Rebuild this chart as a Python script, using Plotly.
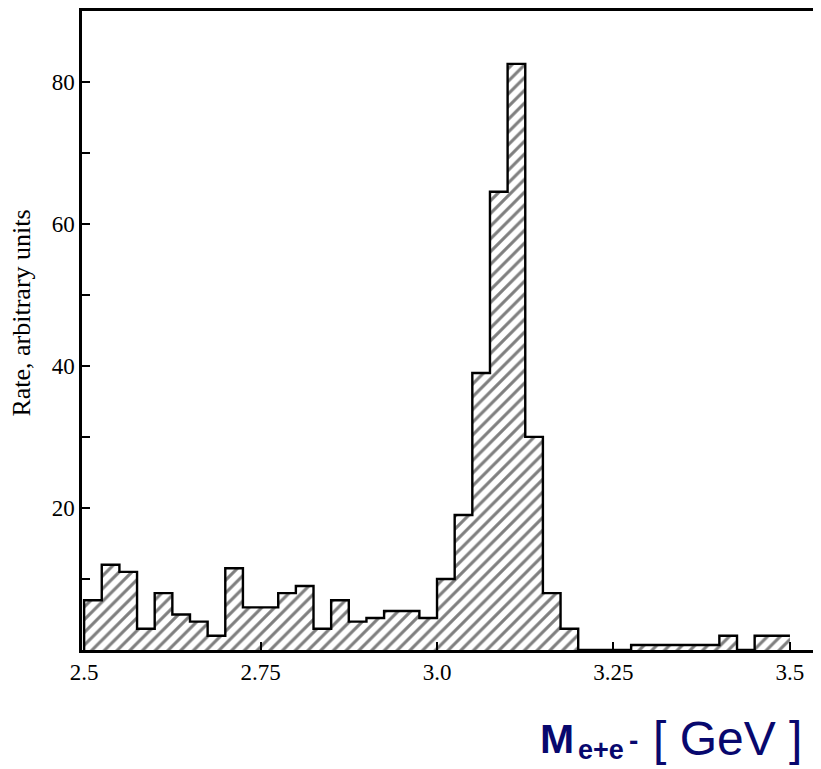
import numpy as np
import plotly.graph_objects as go

# ---- data ----
bin_width = 0.025
bin_left_edges = [round(2.5 + 0.025 * i, 3) for i in range(40)]
rates = [7, 12, 11, 3, 8, 5, 4, 2, 11.5, 6,
         6, 8, 9, 3, 7, 4, 4.5, 5.5, 5.5, 4.5,
         10, 19, 39, 64.5, 82.5, 30, 8, 3, 0, 0,
         0, 0.7, 0.7, 0.7, 0.7, 0.7, 2, 0, 2, 2]
x_tick_vals = [2.5, 2.75, 3.0, 3.25, 3.5]
x_tick_text = ["2.5", "2.75", "3.0", "3.25", "3.5"]
y_tick_vals = [20, 40, 60, 80]
y_tick_text = ["20", "40", "60", "80"]

centers = np.array(bin_left_edges) + bin_width / 2
edges = list(bin_left_edges) + [bin_left_edges[-1] + bin_width]

# page has an 8px body margin; figure is sized/placed to compensate
OFF = 8
W, H = 821 - OFF, 769 - OFF
L, R, T = 74, 0, 0
B = H - (650 - OFF)
pw, ph = W - L - R, H - T - B

def px(xp):
    return (xp - OFF - L) / pw

def py(yp):
    return (H - B - (yp - OFF)) / ph

fig = go.Figure()
fig.add_trace(go.Bar(
    x=centers, y=rates, width=bin_width,
    marker=dict(color="white", line=dict(width=0),
                pattern=dict(shape="/", fgcolor="black", bgcolor="white",
                             size=9, solidity=0.34)),
    hoverinfo="skip", showlegend=False,
))
step_x = [edges[0]] + edges
step_y = [0] + rates + [rates[-1]]
fig.add_trace(go.Scatter(
    x=step_x, y=step_y, mode="lines", line_shape="hv",
    line=dict(color="black", width=2.4), hoverinfo="skip", showlegend=False,
))

serif = "Liberation Serif, Times New Roman, serif"
fig.update_layout(
    width=W, height=H,
    margin=dict(l=L, r=R, t=T, b=B, pad=0),
    paper_bgcolor="white", plot_bgcolor="white",
    bargap=0, showlegend=False,
    xaxis=dict(range=[2.497, 3.544], tickvals=x_tick_vals, ticktext=x_tick_text,
               ticks="inside", ticklen=8, tickwidth=1.5, tickcolor="black",
               showline=True, linecolor="black", linewidth=2.5, mirror=True,
               showgrid=False, zeroline=False,
               tickfont=dict(family=serif, size=23, color="black")),
    yaxis=dict(range=[0, 89.95], tickvals=y_tick_vals, ticktext=y_tick_text,
               ticks="inside", ticklen=8, tickwidth=1.5, tickcolor="black",
               minor=dict(tickvals=[10, 30, 50, 70], ticks="inside", ticklen=8,
                          tickwidth=1.5, tickcolor="black"),
               showline=True, linecolor="black", linewidth=2.5, mirror=False,
               showgrid=False, zeroline=False,
               tickfont=dict(family=serif, size=23, color="black")),
)

navy = "#08086e"
sans = "Arial, Liberation Sans, sans-serif"
ann = [
    dict(text="Rate, arbitrary units", x=px(22), y=py(312), textangle=-90,
         font=dict(family=serif, size=26, color="black"),
         xanchor="center", yanchor="middle"),
    dict(text="<b>M</b>", x=px(538), y=py(739), xanchor="left", yanchor="middle",
         font=dict(family=sans, size=41, color=navy)),
    dict(text="<b>e+e</b>", x=px(576), y=py(750), xanchor="left", yanchor="middle",
         font=dict(family=sans, size=27, color=navy)),
    dict(text="<b>-</b>", x=px(627), y=py(741), xanchor="left", yanchor="middle",
         font=dict(family=sans, size=28, color=navy)),
    dict(text="[ GeV ]", x=px(651), y=py(739), xanchor="left", yanchor="middle",
         font=dict(family=sans, size=48, color=navy)),
]
for a in ann:
    a.update(xref="paper", yref="paper", showarrow=False)
    fig.add_annotation(**a)

fig.write_html("out.html")
